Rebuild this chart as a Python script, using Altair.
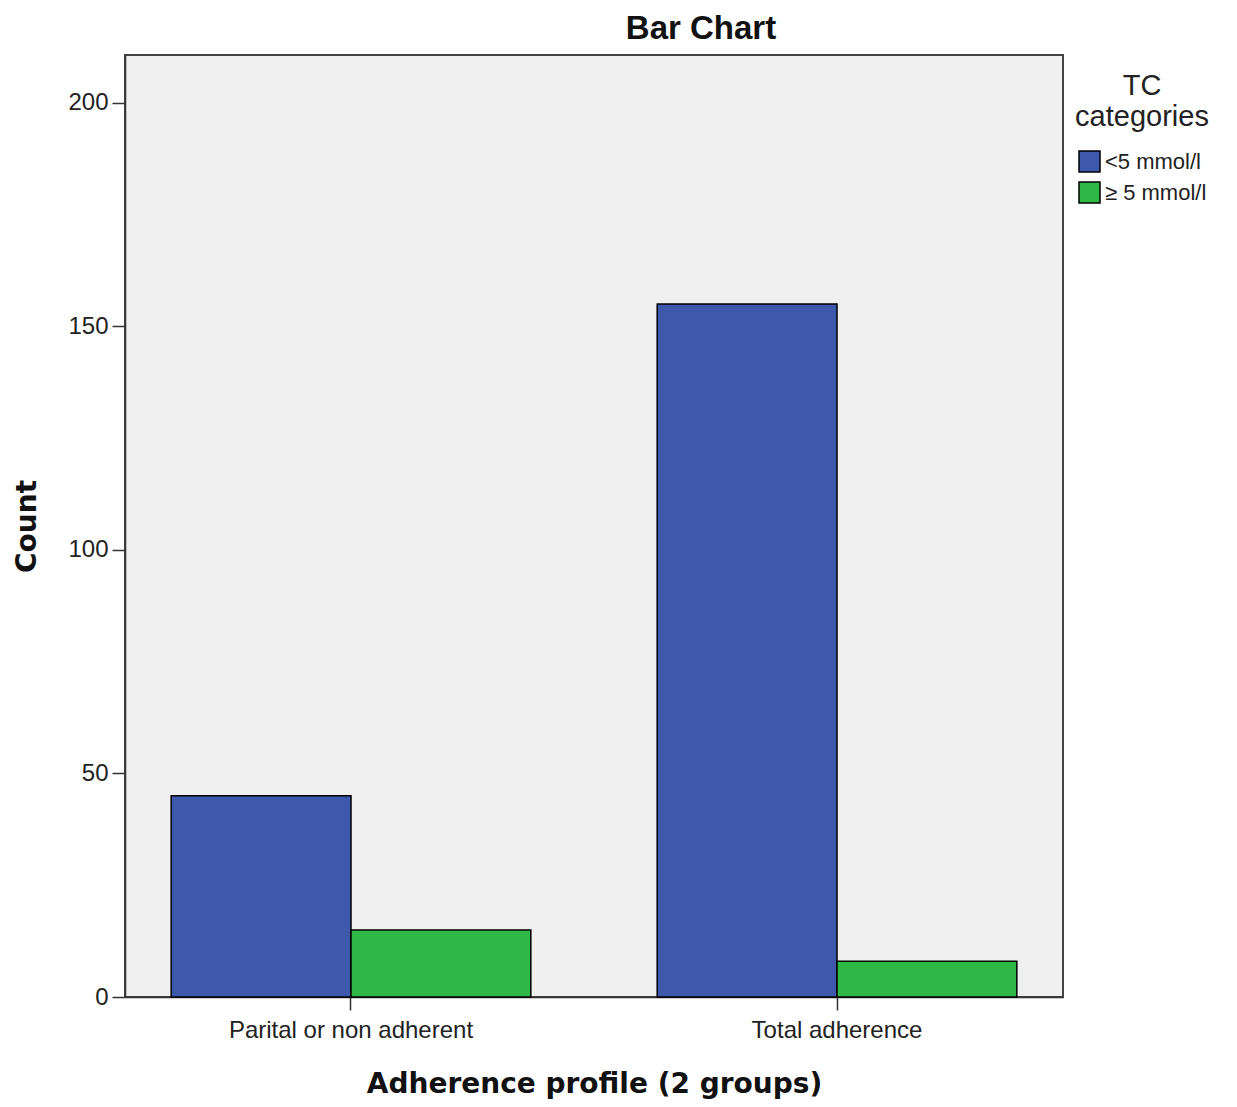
import altair as alt
import pandas as pd

groups = ["Parital or non adherent", "Total adherence"]
tc_categories = ["<5 mmol/l", "≥ 5 mmol/l"]
counts_lt5 = [45, 155]
counts_ge5 = [15, 8]
colors = ["#3E58AC", "#2EB845"]
y_ticks = [0, 50, 100, 150, 200]

rows = []
for g, a, b in zip(groups, counts_lt5, counts_ge5):
    rows.append({"group": g, "tc": tc_categories[0], "count": a})
    rows.append({"group": g, "tc": tc_categories[1], "count": b})
df = pd.DataFrame(rows)

chart = alt.Chart(df).mark_bar(stroke="black", strokeWidth=1.5).encode(
    x=alt.X(
        "group:N",
        sort=groups,
        scale=alt.Scale(paddingInner=0.26, paddingOuter=0.095),
        axis=alt.Axis(
            title="Adherence profile (2 groups)",
            labelAngle=0,
            labelLimit=0,
            labelFont="Liberation Sans",
            labelFontSize=24,
            labelColor="#222222",
            labelPadding=8,
            tickSize=13,
            tickColor="#333333",
            tickWidth=1.5,
            domainColor="#333333",
            domainWidth=1.5,
            titleFont="DejaVu Sans",
            titleFontWeight="bold",
            titleFontSize=28,
            titleColor="#111111",
            titlePadding=28,
        ),
    ),
    xOffset=alt.XOffset(
        "tc:N",
        sort=tc_categories,
        scale=alt.Scale(paddingInner=0, paddingOuter=0),
    ),
    y=alt.Y(
        "count:Q",
        scale=alt.Scale(domain=[0, 210.7], nice=False),
        axis=alt.Axis(
            values=y_ticks,
            title="Count",
            grid=False,
            labelFont="Liberation Sans",
            labelFontSize=24,
            labelColor="#222222",
            labelPadding=4,
            tickSize=13,
            tickColor="#333333",
            tickWidth=1.5,
            domainColor="#333333",
            domainWidth=1.5,
            titleFont="DejaVu Sans",
            titleFontWeight="bold",
            titleFontSize=28,
            titleColor="#111111",
            titlePadding=26,
        ),
    ),
    color=alt.Color(
        "tc:N",
        sort=tc_categories,
        scale=alt.Scale(domain=tc_categories, range=colors),
        legend=alt.Legend(
            title=["TC", "categories"],
            titleFont="Liberation Sans",
            titleFontSize=29,
            titleFontWeight="normal",
            titleColor="#222222",
            titleLineHeight=31,
            titleAnchor="middle",
            titleAlign="center",
            titlePadding=18,
            labelFont="Liberation Sans",
            labelFontSize=22,
            labelColor="#222222",
            labelOffset=4,
            symbolType="square",
            symbolSize=441,
            symbolStrokeColor="black",
            symbolStrokeWidth=1.5,
            rowPadding=4,
            padding=17,
            offset=-5,
        ),
    ),
).properties(
    width=938,
    height=942,
    title=alt.TitleParams(
        "Bar Chart",
        font="Liberation Sans",
        fontSize=33,
        fontWeight="bold",
        color="#111111",
        anchor="middle",
        dx=107,
        offset=9,
    ),
    autosize=alt.AutoSizeParams(type="none"),
    padding={"left": 117, "top": 47, "right": 158, "bottom": 102},
).configure_view(
    fill="#F0F0F0",
    stroke="#444444",
    strokeWidth=2,
)

chart.save("out.html", embed_options={"renderer": "svg", "actions": False})
